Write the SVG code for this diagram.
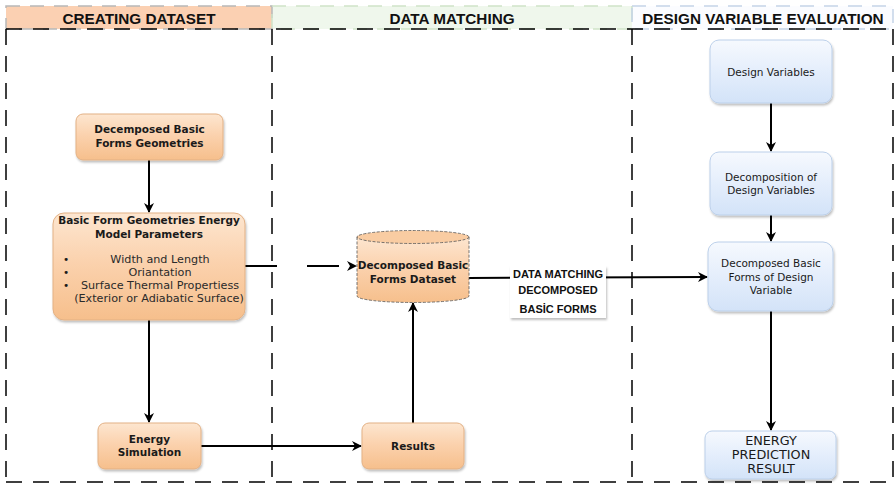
<svg xmlns="http://www.w3.org/2000/svg" width="895" height="484" viewBox="0 0 895 484">
  <defs>
    <linearGradient id="peach" x1="0" y1="0" x2="0" y2="1">
      <stop offset="0" stop-color="#fde6d0"/>
      <stop offset="0.45" stop-color="#fbd2ae"/>
      <stop offset="1" stop-color="#f6bf8c"/>
    </linearGradient>
    <linearGradient id="blue" x1="0" y1="0" x2="0" y2="1">
      <stop offset="0" stop-color="#f6f9fe"/>
      <stop offset="0.45" stop-color="#e6effc"/>
      <stop offset="1" stop-color="#d3e3f8"/>
    </linearGradient>
    <filter id="shadow" x="-10%" y="-10%" width="130%" height="140%">
      <feDropShadow dx="1" dy="2" stdDeviation="1.2" flood-color="#000" flood-opacity="0.25"/>
    </filter>
    <marker id="arrow" viewBox="0 0 10 10" refX="9" refY="5" markerWidth="10" markerHeight="10" markerUnits="userSpaceOnUse" orient="auto">
      <path d="M0,0 L10,5 L0,10 L3,5 Z" fill="#000"/>
    </marker>
  </defs>
  <style>
    .lane { stroke: #000; stroke-width: 1.5; stroke-dasharray: 16 11; fill: none; }
    .hdr-border { stroke: #b8b8b8; stroke-width: 1.5; stroke-dasharray: 14 10; fill: none; }
    .hdr { font-family: "Liberation Sans", Arial, sans-serif; font-weight: bold; font-size: 15.3px; fill: #111; text-anchor: middle; }
    .node-p { fill: url(#peach); stroke: #e3b185; stroke-width: 1; filter: url(#shadow); }
    .node-b { fill: url(#blue); stroke: #bcd0ea; stroke-width: 1; filter: url(#shadow); }
    .t { font-family: "DejaVu Sans", "Open Sans", sans-serif; font-size: 10.5px; fill: #1a1a1a; text-anchor: middle; }
    .tb { font-weight: bold; }
    .li { font-size: 11.2px; fill: #2a2a2a; }
    .lbl { font-family: "Liberation Sans", Arial, sans-serif; font-weight: bold; font-size: 11px; fill: #111; text-anchor: middle; }
    .conn { stroke: #000; stroke-width: 2; fill: none; marker-end: url(#arrow); }
  </style>

  <!-- lane headers -->
  <rect x="6" y="6" width="266" height="23" fill="#fbd0b2"/>
  <rect x="272" y="6" width="360" height="23" fill="#eff7ec"/>
  <rect x="632" y="6" width="261" height="23" fill="#fbfcff"/>
  <rect x="6" y="6" width="266" height="23" class="hdr-border"/>
  <rect x="272" y="6" width="360" height="23" class="hdr-border" style="stroke:#cfe3c7"/>
  <rect x="632" y="6" width="261" height="23" class="hdr-border" style="stroke:#c5d3e8"/>
  <text x="139" y="23.5" class="hdr">CREATING DATASET</text>
  <text x="452" y="23.5" class="hdr">DATA MATCHING</text>
  <text x="763" y="23.5" class="hdr">DESIGN VARIABLE EVALUATION</text>

  <!-- lane boundaries -->
  <g id="lanes">
    <line x1="6" y1="29" x2="893" y2="29" class="lane"/>
    <line x1="6" y1="482" x2="893" y2="482" class="lane"/>
    <line x1="6" y1="29" x2="6" y2="482" class="lane"/>
    <line x1="272" y1="29" x2="272" y2="482" class="lane"/>
    <line x1="632" y1="29" x2="632" y2="482" class="lane"/>
    <line x1="893" y1="29" x2="893" y2="482" class="lane"/>
  </g>

  <!-- connectors -->
  <g id="connectors">
    <line x1="149" y1="160" x2="149" y2="212" class="conn"/>
    <line x1="149" y1="320" x2="149" y2="422" class="conn"/>
    <line x1="201" y1="446" x2="361" y2="446" class="conn"/>
    <line x1="413" y1="423" x2="413" y2="303" class="conn"/>
    <line x1="245" y1="266" x2="356" y2="266" class="conn" style="stroke-dasharray:32 30"/>
    <line x1="469" y1="278" x2="707" y2="277" class="conn"/>
    <line x1="771" y1="103" x2="771" y2="151" class="conn"/>
    <line x1="771" y1="215" x2="771" y2="241" class="conn"/>
    <line x1="771" y1="311" x2="771" y2="430" class="conn"/>
  </g>

  <!-- creating dataset -->
  <g id="geometries">
    <rect x="76" y="114" width="147" height="46" rx="7" class="node-p"/>
    <text x="149.5" y="133" class="t tb">Decemposed Basic</text>
    <text x="149.5" y="147" class="t tb">Forms Geometries</text>
  </g>
  <g id="model-parameters">
    <rect x="53" y="213" width="192" height="107" rx="11" class="node-p"/>
    <text x="149" y="224" class="t tb">Basic Form Geometries Energy</text>
    <text x="149" y="238" class="t tb">Model Parameters</text>
    <text x="66" y="263" class="t">•</text>
    <text x="66" y="276" class="t">•</text>
    <text x="66" y="289" class="t">•</text>
    <text x="160" y="263" class="t li">Width and Length</text>
    <text x="160" y="276" class="t li">Oriantation</text>
    <text x="160" y="289" class="t li">Surface Thermal Propertiess</text>
    <text x="159" y="302" class="t li">(Exterior or Adiabatic Surface)</text>
  </g>
  <g id="energy-simulation">
    <rect x="98" y="423" width="103" height="46" rx="7" class="node-p"/>
    <text x="149.5" y="443" class="t tb">Energy</text>
    <text x="149.5" y="456" class="t tb">Simulation</text>
  </g>

  <!-- data matching -->
  <g id="dataset">
    <path d="M357,237 L357,296 A56,6.5 0 0 0 469,296 L469,237 Z" fill="url(#peach)" stroke="#555" stroke-width="0.8" stroke-dasharray="3 1.5"/>
    <ellipse cx="413" cy="237" rx="56" ry="6.5" fill="#f9cca2" stroke="#555" stroke-width="0.8" stroke-dasharray="3 1.5"/>
    <text x="413" y="269" class="t tb">Decomposed Basic</text>
    <text x="413" y="283" class="t tb">Forms Dataset</text>
  </g>
  <g id="results">
    <rect x="362" y="423" width="102" height="46" rx="7" class="node-p"/>
    <text x="413" y="450" class="t tb">Results</text>
  </g>
  <g id="matching-label">
    <rect x="510" y="266" width="96" height="52" fill="#fff" filter="url(#shadow)"/>
    <text x="558" y="278" class="lbl">DATA MATCHING</text>
    <text x="558" y="294" class="lbl">DECOMPOSED</text>
    <text x="558" y="313" class="lbl">BASİC FORMS</text>
  </g>

  <!-- design variable evaluation -->
  <g id="design-variables">
    <rect x="710" y="40" width="122" height="63" rx="9" class="node-b"/>
    <text x="771" y="76" class="t">Design Variables</text>
  </g>
  <g id="decomposition">
    <rect x="710" y="152" width="122" height="63" rx="9" class="node-b"/>
    <text x="771" y="181" class="t">Decomposition of</text>
    <text x="771" y="194" class="t">Design Variables</text>
  </g>
  <g id="decomposed-forms">
    <rect x="708" y="242" width="125" height="69" rx="10" class="node-b"/>
    <text x="771" y="267" class="t">Decomposed Basic</text>
    <text x="771" y="281" class="t">Forms of Design</text>
    <text x="771" y="294" class="t">Variable</text>
  </g>
  <g id="prediction">
    <rect x="705" y="431" width="131" height="48" rx="7" class="node-b"/>
    <text x="771" y="445" class="t" style="font-size:12.8px">ENERGY</text>
    <text x="771" y="459" class="t" style="font-size:12.8px">PREDICTION</text>
    <text x="771" y="473" class="t" style="font-size:12.8px">RESULT</text>
  </g>
</svg>
